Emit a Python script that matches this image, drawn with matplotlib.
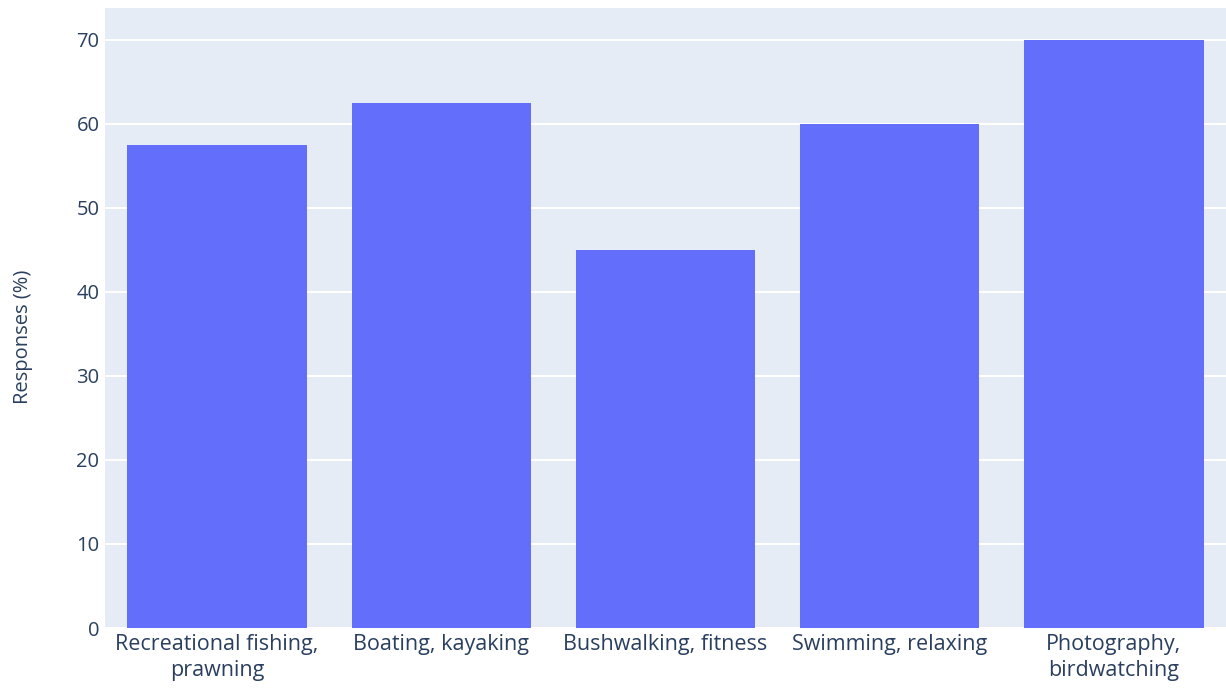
import matplotlib
matplotlib.use("Agg")
import matplotlib.pyplot as plt

categories = ["Recreational fishing,\nprawning", "Boating, kayaking", "Bushwalking, fitness",
              "Swimming, relaxing", "Photography,\nbirdwatching"]
values = [57.5, 62.5, 45, 60, 70]
yticks = [0, 10, 20, 30, 40, 50, 60, 70]

plt.rcParams['font.family'] = ['Open Sans', 'DejaVu Sans']
textc = '#2a3f5f'

fig = plt.figure(figsize=(12.26, 6.91), dpi=100)
ax = fig.add_axes([105/1226, 63/691, 1 - 105/1226, (628-8)/691])
ax.set_facecolor('#e5ecf6')
x = list(range(len(categories)))
ax.bar(x, values, width=0.8, color='#636efa', zorder=3)
ax.set_xlim(-0.5, len(categories) - 0.5)
ax.set_ylim(0, 73.8)
ax.set_yticks(yticks)
ax.set_yticklabels([str(t) for t in yticks], fontsize=14.5, color=textc)
ax.set_xticks(x)
ax.set_xticklabels(categories, fontsize=15.5, color=textc, linespacing=1.35)
ax.grid(axis='y', color='white', linewidth=1.5, zorder=0)
ax.tick_params(axis='both', length=0)
ax.tick_params(axis='y', pad=4)
ax.tick_params(axis='x', pad=4)
for s in ax.spines.values():
    s.set_visible(False)
ax.set_ylabel('Responses (%)', fontsize=14.5, color=textc)
ax.yaxis.set_label_coords(-0.064, (628 - 337) / 620)
fig.savefig('out.png', dpi=100)
